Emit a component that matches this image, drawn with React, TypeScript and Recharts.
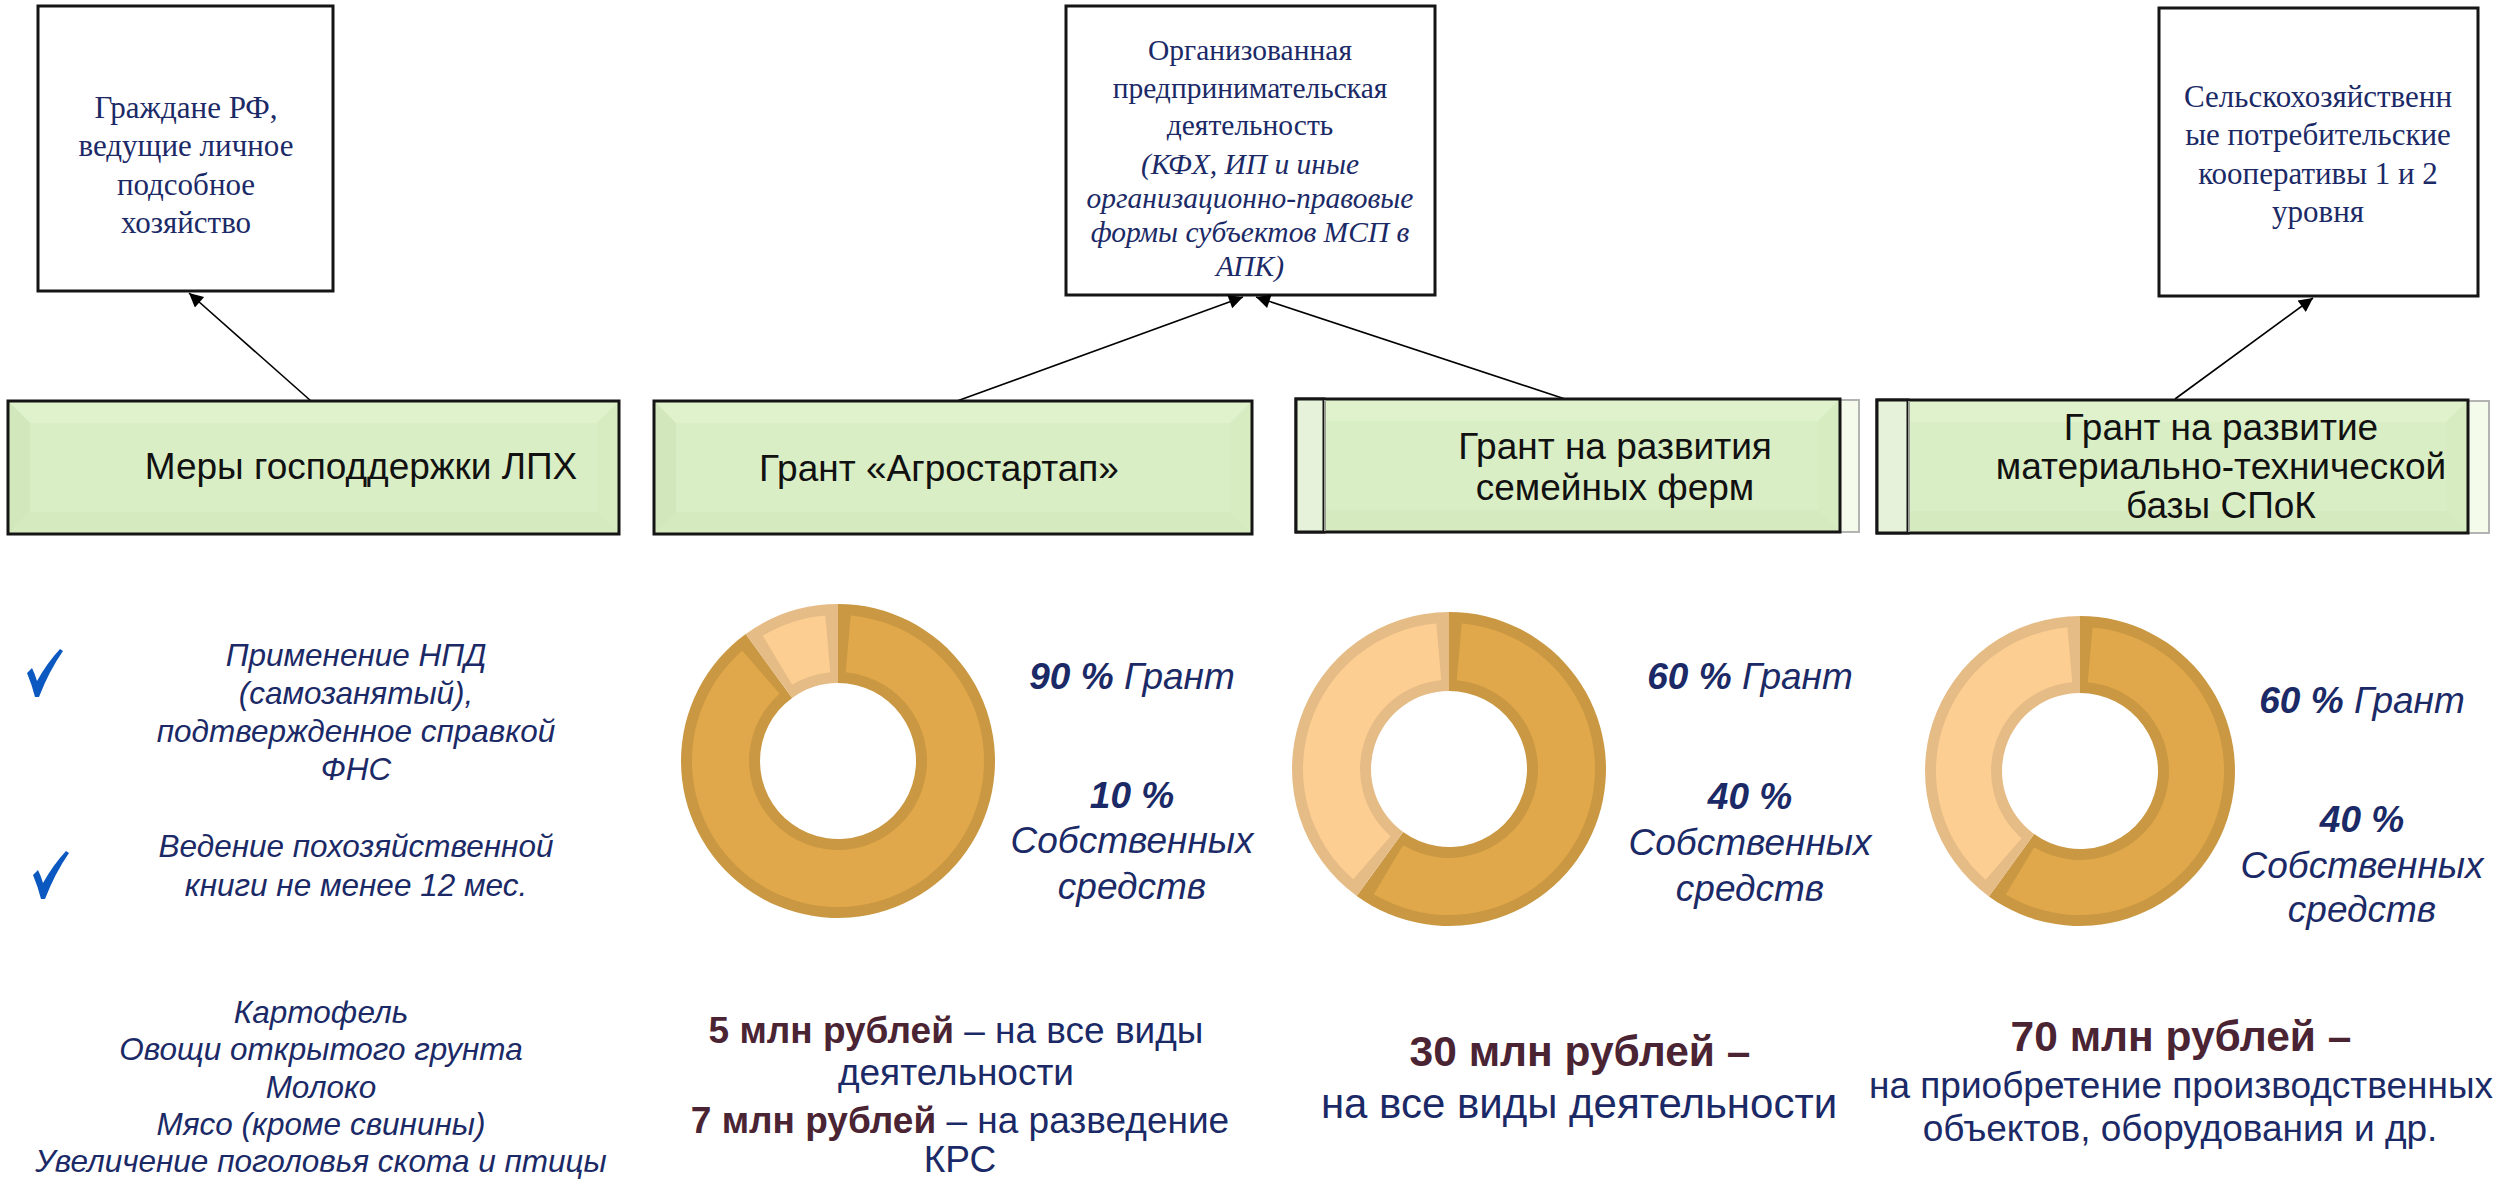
import React from 'react';
import { PieChart, Pie, Cell } from 'recharts';

// ---------- data ----------
const shareNames = ['Грант', 'Собственных средств'];
const agrostartapShares = [90, 10];
const familyFarmShares = [60, 40];
const spokShares = [60, 40];

const recipientLines1 = ['Граждане РФ,', 'ведущие личное', 'подсобное', 'хозяйство'];
const recipientLines2 = ['Организованная', 'предпринимательская', 'деятельность'];
const recipientLines2Italic = ['(КФХ, ИП и иные', 'организационно-правовые', 'формы субъектов МСП в', 'АПК)'];
const recipientLines3 = ['Сельскохозяйственн', 'ые потребительские', 'кооперативы 1 и 2', 'уровня'];

const measureTitles = ['Меры господдержки ЛПХ', 'Грант «Агростартап»'];
const familyTitle = ['Грант на развития', 'семейных ферм'];
const spokTitle = ['Грант на развитие', 'материально-технической', 'базы СПоК'];

const conditionLines1 = ['Применение НПД', '(самозанятый),', 'подтвержденное справкой', 'ФНС'];
const conditionLines2 = ['Ведение похозяйственной', 'книги не менее 12 мес.'];
const productLines = ['Картофель', 'Овощи открытого грунта', 'Молоко', 'Мясо (кроме свинины)', 'Увеличение поголовья скота и птицы'];

// ---------- styles ----------
const FILL = ['#E0A84A', '#FDCE92'];
const BORDER = ['#CA9842', '#E6BC86'];
const NAVY = '#1B2A66';
const MAROON = '#4B2434';
const SANS = "'Liberation Sans', Arial, sans-serif";
const SERIF = "'Liberation Serif', 'Times New Roman', serif";

const toData = (vals: number[]) => vals.map((v, i) => ({ name: shareNames[i], value: v }));

function donut(key: string, vals: number[], cx: number, cy: number, rOut: number, rIn: number) {
  const total = vals.reduce((a, b) => a + b, 0);
  const data = toData(vals);
  const bw = 11;
  const pad = 5;
  const boundary = 90 - (360 * vals[0]) / total;
  return [
    <Pie key={key + 'o'} data={data} dataKey="value" cx={cx} cy={cy} innerRadius={rIn} outerRadius={rOut}
      startAngle={90} endAngle={-270} stroke="none" isAnimationActive={false}>
      {data.map((d, i) => <Cell key={i} fill={BORDER[i]} />)}
    </Pie>,
    <Pie key={key + 'a'} data={[data[0]]} dataKey="value" cx={cx} cy={cy} innerRadius={rIn + bw} outerRadius={rOut - bw}
      startAngle={90 - pad} endAngle={boundary + pad} stroke="none" fill={FILL[0]} isAnimationActive={false} />,
    <Pie key={key + 'b'} data={[data[1]]} dataKey="value" cx={cx} cy={cy} innerRadius={rIn + bw} outerRadius={rOut - bw}
      startAngle={boundary - pad} endAngle={-270 + pad} stroke="none" fill={FILL[1]} isAnimationActive={false} />,
  ];
}

function Lines({ lines, x, y0, dy, size, family, italic, color, weight }: any) {
  return (
    <>
      {lines.map((t: string, i: number) => (
        <text key={i} x={x} y={y0 + i * dy} textAnchor="middle" dominantBaseline="central" fontSize={size}
          fontFamily={family} fontStyle={italic ? 'italic' : 'normal'} fill={color} fontWeight={weight || 'normal'}>{t}</text>
      ))}
    </>
  );
}

function GreenBox({ x, y, w, h }: any) {
  const b = 22;
  return (
    <g>
      <rect x={x} y={y} width={w} height={h} fill="#DAEEC5" />
      <polygon points={`${x},${y} ${x + w},${y} ${x + w - b},${y + b} ${x + b},${y + b}`} fill="#DFF2CB" />
      <polygon points={`${x},${y} ${x + b},${y + b} ${x + b},${y + h - b} ${x},${y + h}`} fill="#D3E7BD" />
      <polygon points={`${x + w},${y} ${x + w},${y + h} ${x + w - b},${y + h - b} ${x + w - b},${y + b}`} fill="#D8ECC2" />
      <polygon points={`${x},${y + h} ${x + b},${y + h - b} ${x + w - b},${y + h - b} ${x + w},${y + h}`} fill="#D6EAC0" />
      <rect x={x} y={y} width={w} height={h} fill="none" stroke="#151515" strokeWidth={3} />
    </g>
  );
}

function Check({ x, y }: any) {
  return (
    <path transform={`translate(${x},${y})`}
      d="M0,24 L5,19 Q8,25 10,32 Q20,14 33,0 L36,2 Q22,22 12,48 L8,48 Q5,36 0,24 Z" fill="#0B58C0" />
  );
}

export default function App() {
  return (
    <div style={{ position: 'absolute', left: 0, top: 0, width: 2501, height: 1179, background: '#fff' }}>
      <PieChart width={2501} height={1179}>
        {donut('d1', agrostartapShares, 833, 756, 157, 78)}
        {donut('d2', familyFarmShares, 1444, 764, 157, 78)}
        {donut('d3', spokShares, 2075, 766, 155, 78)}
      </PieChart>
      <svg width={2501} height={1179} style={{ position: 'absolute', left: 0, top: 0, pointerEvents: 'none' }}>
        <defs>
          <marker id="arrBig" viewBox="0 0 10 10" refX="10" refY="5" markerWidth="16" markerHeight="14" orient="auto" markerUnits="userSpaceOnUse">
            <path d="M0,0 L10,5 L0,10 Z" fill="#000" />
          </marker>
        </defs>

        {/* recipient boxes */}
        <rect x={38} y={6} width={295} height={285} fill="#fff" stroke="#151515" strokeWidth={3} />
        <rect x={1066} y={6} width={369} height={289} fill="#fff" stroke="#151515" strokeWidth={3} />
        <rect x={2159} y={8} width={319} height={288} fill="#fff" stroke="#151515" strokeWidth={3} />
        <Lines lines={recipientLines1} x={186} y0={107} dy={38.5} size={31} family={SERIF} color={NAVY} />
        <Lines lines={recipientLines2} x={1250} y0={50} dy={37.5} size={29.5} family={SERIF} color={NAVY} />
        <Lines lines={recipientLines2Italic} x={1250} y0={164} dy={34} size={29.5} family={SERIF} italic color={NAVY} />
        <Lines lines={recipientLines3} x={2318} y0={96} dy={38.5} size={31} family={SERIF} color={NAVY} />

        {/* arrows */}
        <line x1={311} y1={401} x2={189} y2={293} stroke="#000" strokeWidth={1.6} markerEnd="url(#arrBig)" />
        <line x1={957} y1={401} x2={1243} y2={297} stroke="#000" strokeWidth={1.6} markerEnd="url(#arrBig)" />
        <line x1={1565} y1={399} x2={1256} y2={297} stroke="#000" strokeWidth={1.6} markerEnd="url(#arrBig)" />
        <line x1={2175} y1={399} x2={2313} y2={298} stroke="#000" strokeWidth={1.6} markerEnd="url(#arrBig)" />

        {/* measure boxes */}
        <GreenBox x={8} y={401} w={611} h={133} />
        <GreenBox x={654} y={401} w={598} h={133} />
        <rect x={1840} y={400} width={19} height={132} fill="#F4FBEA" stroke="#B3B3B3" strokeWidth={2} />
        <GreenBox x={1296} y={399} w={544} h={133} />
        <rect x={1296} y={399} width={28} height={133} fill="#E6F3DA" stroke="#151515" strokeWidth={3} />
        <line x1={1325} y1={400} x2={1325} y2={531} stroke="#9A9F95" strokeWidth={2} />
        <rect x={2468} y={401} width={21} height={132} fill="#F4FBEA" stroke="#B3B3B3" strokeWidth={2} />
        <GreenBox x={1877} y={400} w={591} h={133} />
        <rect x={1877} y={400} width={31} height={133} fill="#E6F3DA" stroke="#151515" strokeWidth={3} />
        <line x1={1909} y1={401} x2={1909} y2={532} stroke="#9A9F95" strokeWidth={2} />

        <Lines lines={[measureTitles[0]]} x={361} y0={466} dy={0} size={37} family={SANS} color="#111" />
        <Lines lines={[measureTitles[1]]} x={939} y0={468} dy={0} size={37} family={SANS} color="#111" />
        <Lines lines={familyTitle} x={1615} y0={446} dy={41} size={37} family={SANS} color="#111" />
        <Lines lines={spokTitle} x={2221} y0={427} dy={39} size={37} family={SANS} color="#111" />

        {/* conditions */}
        <Check x={27} y={649} />
        <Check x={33} y={851} />
        <Lines lines={conditionLines1} x={356} y0={655} dy={38} size={31.5} family={SANS} italic color={NAVY} />
        <Lines lines={conditionLines2} x={356} y0={846} dy={39} size={31.5} family={SANS} italic color={NAVY} />
        <Lines lines={productLines} x={321} y0={1012} dy={37.3} size={31.5} family={SANS} italic color={NAVY} />

        {/* donut labels */}
        {[
          { x: 1132, ys: [676, 795, 840, 886], v: agrostartapShares },
          { x: 1750, ys: [676, 796, 842, 888], v: familyFarmShares },
          { x: 2362, ys: [700, 819, 865, 909], v: spokShares },
        ].map((d, i) => (
          <g key={i} fontFamily={SANS} fontStyle="italic" fill={NAVY} fontSize={37} textAnchor="middle">
            <text x={d.x} y={d.ys[0]} dominantBaseline="central">
              <tspan fontWeight="bold">{d.v[0]} %</tspan> {shareNames[0]}
            </text>
            <text x={d.x} y={d.ys[1]} dominantBaseline="central" fontWeight="bold">{d.v[1]} %</text>
            <text x={d.x} y={d.ys[2]} dominantBaseline="central">Собственных</text>
            <text x={d.x} y={d.ys[3]} dominantBaseline="central">средств</text>
          </g>
        ))}

        {/* amounts */}
        <g fontFamily={SANS} textAnchor="middle">
          <text x={956} y={1030} dominantBaseline="central" fontSize={37} fill={NAVY}>
            <tspan fontWeight="bold" fill={MAROON}>5 млн рублей</tspan> – на все виды
          </text>
          <text x={956} y={1072} dominantBaseline="central" fontSize={37} fill={NAVY}>деятельности</text>
          <text x={960} y={1120} dominantBaseline="central" fontSize={37} fill={NAVY}>
            <tspan fontWeight="bold" fill={MAROON}>7 млн рублей</tspan> – на разведение
          </text>
          <text x={960} y={1159} dominantBaseline="central" fontSize={37} fill={NAVY}>КРС</text>

          <text x={1580} y={1051} dominantBaseline="central" fontSize={42.5} fontWeight="bold" fill={MAROON}>30 млн рублей –</text>
          <text x={1579} y={1103} dominantBaseline="central" fontSize={42} fill={NAVY}>на все виды деятельности</text>

          <text x={2181} y={1036} dominantBaseline="central" fontSize={42.5} fontWeight="bold" fill={MAROON}>70 млн рублей –</text>
          <text x={2181} y={1085} dominantBaseline="central" fontSize={37} fill={NAVY}>на приобретение производственных</text>
          <text x={2180} y={1128} dominantBaseline="central" fontSize={37} fill={NAVY}>объектов, оборудования и др.</text>
        </g>
      </svg>
    </div>
  );
}
